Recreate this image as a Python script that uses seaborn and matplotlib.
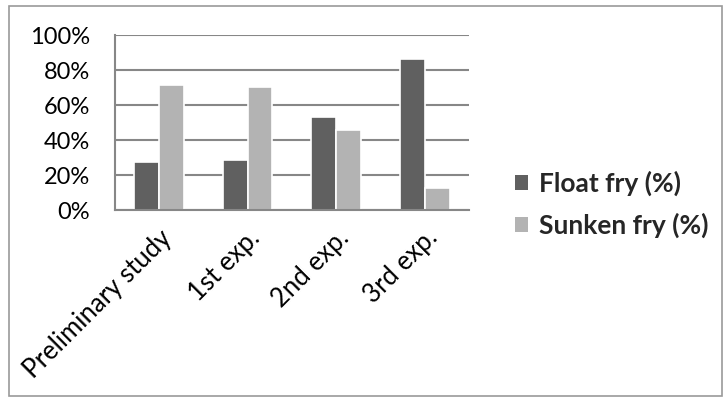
import matplotlib
matplotlib.use("Agg")
import matplotlib.pyplot as plt
import seaborn as sns
import pandas as pd
from matplotlib.patches import Rectangle
from matplotlib.ticker import PercentFormatter

# Share of fry per trial
categories = ["Preliminary study", "1st exp.", "2nd exp.", "3rd exp."]
float_fry = [27.2, 28.4, 53.1, 86.1]
sunken_fry = [71.2, 70.3, 45.5, 12.8]
series_names = ["Float fry (%)", "Sunken fry (%)"]
y_ticks = [0, 20, 40, 60, 80, 100]

df = pd.DataFrame({
    "trial": categories * 2,
    "series": [series_names[0]] * len(categories) + [series_names[1]] * len(categories),
    "value": float_fry + sunken_fry,
})

sns.set_style("white")
plt.rcParams["font.family"] = ["Lato", "DejaVu Sans"]

colors = {series_names[0]: "#606060", series_names[1]: "#b3b3b3"}

fig = plt.figure(figsize=(7.26, 4.01), dpi=100)
ax = fig.add_axes([0.158, 0.4763, 0.488, 0.4364])

sns.barplot(data=df, x="trial", y="value", hue="series", order=categories,
            hue_order=series_names, palette=colors, width=0.56,
            edgecolor="white", linewidth=1.2, saturation=1, ax=ax, legend=False)

ax.set_ylim(0, 100)
ax.set_xlim(-0.5, 3.5)
ax.set_yticks(y_ticks)
ax.yaxis.set_major_formatter(PercentFormatter(decimals=0))
ax.yaxis.grid(True, color="#878787", linewidth=1.5)
ax.set_axisbelow(True)
for side in ("top", "right"):
    ax.spines[side].set_visible(False)
for side in ("left", "bottom"):
    ax.spines[side].set_color("#878787")
    ax.spines[side].set_linewidth(1.5)
ax.tick_params(axis="y", length=0, labelsize=17, colors="black", pad=18)
ax.tick_params(axis="x", length=0, labelsize=18.5, colors="black", pad=11)
ax.set_xlabel("")
ax.set_ylabel("")
for lbl in ax.get_xticklabels():
    lbl.set_rotation(45)
    lbl.set_ha("right")
    lbl.set_va("top")
    lbl.set_rotation_mode("anchor")

handles = [Rectangle((0, 0), 1, 1, facecolor=colors[s], edgecolor="none") for s in series_names]
fig.legend(handles, series_names, loc="center left", bbox_to_anchor=(0.677, 0.49),
           frameon=False, prop={"size": 19, "weight": "bold"},
           handlelength=0.5, handleheight=0.5, handletextpad=0.4, labelspacing=0.65)

# outer chart border
fig.patches.append(Rectangle((0.013, 0.013), 0.982, 0.972, transform=fig.transFigure,
                             fill=False, edgecolor="#9a9a9a", linewidth=1.2))

fig.savefig("out.png", dpi=100)
